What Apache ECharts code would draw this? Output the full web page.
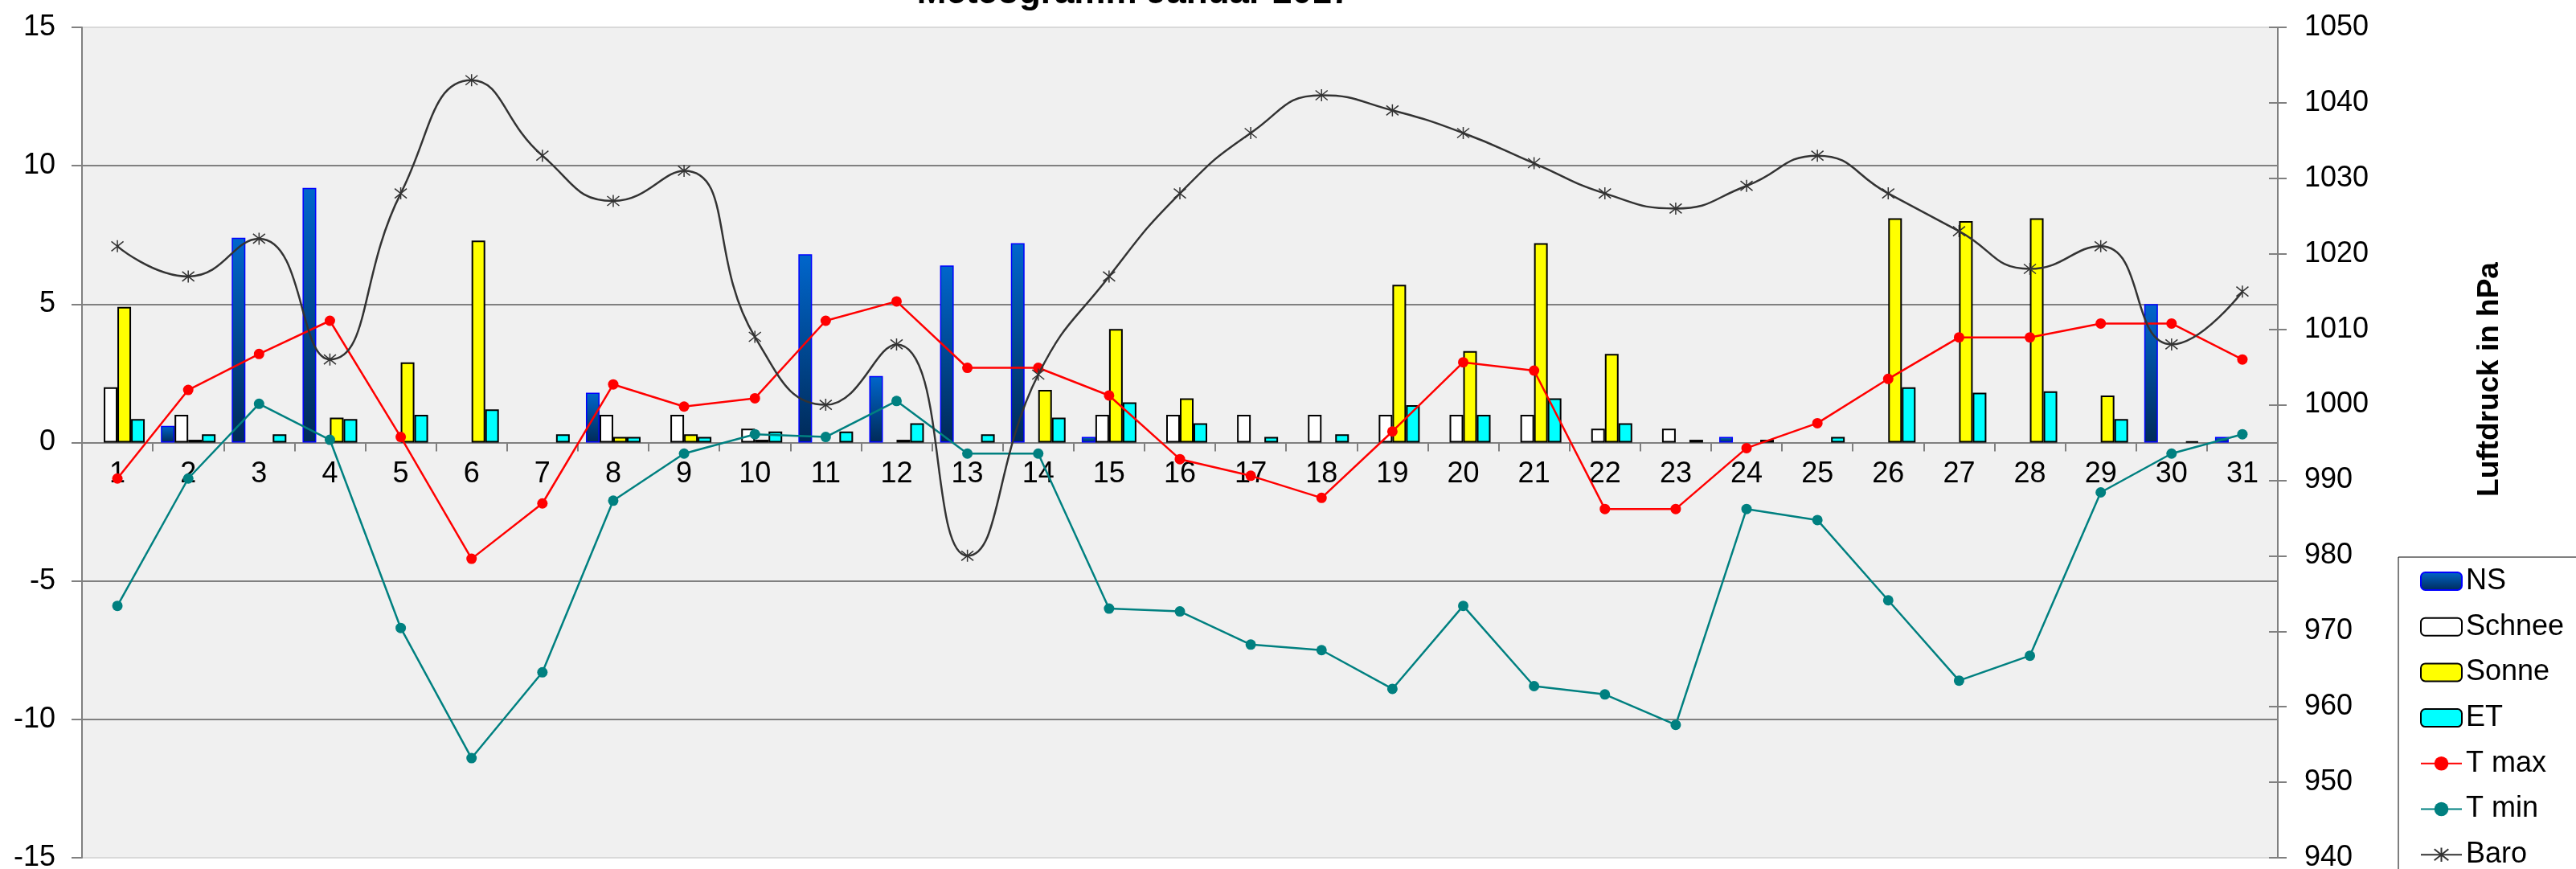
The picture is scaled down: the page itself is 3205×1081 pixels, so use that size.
<!DOCTYPE html>
<html>
<head>
<meta charset="utf-8">
<script src="https://cdn.jsdelivr.net/npm/echarts@6/dist/echarts.min.js"></script>
<style>
html,body{margin:0;padding:0;background:#fff;}
#c{width:3205px;height:1081px;}
</style>
</head>
<body>
<div id="c"></div>
<script>
const days = ['1','2','3','4','5','6','7','8','9','10','11','12','13','14','15','16','17','18','19','20','21','22','23','24','25','26','27','28','29','30','31'];
const leftTicks = [-15, 15, 5];
const rightTicks = [940, 1050, 10];
const ns     = [0,0.6,7.4,9.2,0,0,0,1.8,0,0,6.8,2.4,6.4,7.2,0.2,0,0,0,0,0,0,0,0,0.2,0,0,0,0,0,5.0,0.2];
const schnee = [2.0,1.0,0,0,0,0,0,1.0,1.0,0.5,0,0,0,0,1.0,1.0,1.0,1.0,1.0,1.0,1.0,0.5,0.5,0,0,0,0,0,0,0,0];
const sonne  = [4.9,0.1,0,0.9,2.9,7.3,0,0.2,0.3,0.1,0,0.1,0,1.9,4.1,1.6,0,0,5.7,3.3,7.2,3.2,0,0,0,8.1,8.0,8.1,1.7,0,0];
const et     = [0.85,0.3,0.3,0.85,1.0,1.2,0.3,0.2,0.2,0.4,0.4,0.7,0.3,0.9,1.45,0.7,0.2,0.3,1.35,1.0,1.6,0.7,0.1,0.1,0.2,2.0,1.8,1.85,0.85,0.05,0];
const tmax   = [-1.3,1.9,3.2,4.4,0.2,-4.2,-2.2,2.1,1.3,1.6,4.4,5.1,2.7,2.7,1.7,-0.6,-1.2,-2.0,0.4,2.9,2.6,-2.4,-2.4,-0.2,0.7,2.3,3.8,3.8,4.3,4.3,3.0];
const tmin   = [-5.9,-1.3,1.4,0.1,-6.7,-11.4,-8.3,-2.1,-0.4,0.3,0.2,1.5,-0.4,-0.4,-6.0,-6.1,-7.3,-7.5,-8.9,-5.9,-8.8,-9.1,-10.2,-2.4,-2.8,-5.7,-8.6,-7.7,-1.8,-0.4,0.3];
const baro   = [1021,1017,1022,1006,1028,1043,1033,1027,1031,1009,1000,1008,980,1004,1017,1028,1036,1041,1039,1036,1032,1028,1026,1029,1033,1028,1023,1018,1021,1008,1015];

const FONT = "'Liberation Sans', Arial, sans-serif";
const nz = a => a.map(v => v === 0 ? null : v);
const W = 3205, H = 1081;
const G = {left:102, right:371, top:34, bottom:14};
const gridH = H - G.top - G.bottom;
// place category axis at value 0 of the left axis
const xOffset = -gridH * (0 - leftTicks[0]) / (leftTicks[1] - leftTicks[0]);

const chart = echarts.init(document.getElementById('c'));
const barBase = {type:'bar', barWidth:17, barGap:'0%', yAxisIndex:0, z:2};
chart.setOption({
  animation:false,
  backgroundColor:'#ffffff',
  textStyle:{fontFamily:FONT},
  grid:Object.assign({show:true, backgroundColor:'#f0f0f0', borderWidth:0, containLabel:false, outerBoundsMode:'none'}, G),
  graphic:[
    {type:'text', x:1411, y:-8, style:{text:'Meteogramm Januar 2017', font:"bold 44px "+FONT, fill:'#000', textAlign:'center', textVerticalAlign:'middle'}},
    {type:'text', x:3098, y:472, rotation:Math.PI/2, style:{text:'Luftdruck in hPa', font:"bold 37px "+FONT, fill:'#000', textAlign:'center', textVerticalAlign:'middle'}}
  ],
  legend:{
    orient:'vertical', left:2984, top:693, height:380,
    itemWidth:51, itemHeight:22, itemGap:20.7,
    padding:[12,60,40,27],
    borderColor:'#000', borderWidth:1, backgroundColor:'#ffffff',
    textStyle:{fontSize:36, fontFamily:FONT, color:'#000', lineHeight:36},
    data:['NS','Schnee','Sonne','ET','T max','T min','Baro']
  },
  xAxis:{
    type:'category', data:days, boundaryGap:true, position:'bottom', offset:xOffset,
    axisLine:{onZero:false, lineStyle:{color:'#808080', width:2}},
    axisTick:{show:true, length:11, lineStyle:{color:'#808080', width:2}},
    axisLabel:{interval:0, fontSize:36, fontFamily:FONT, color:'#000', margin:22, hideOverlap:false},
    splitLine:{show:false}
  },
  yAxis:[
    {type:'value', min:leftTicks[0], max:leftTicks[1], interval:leftTicks[2], position:'left',
     axisLine:{show:true, lineStyle:{color:'#808080', width:2}},
     axisTick:{show:true, length:13, lineStyle:{color:'#808080', width:2}},
     axisLabel:{fontSize:36, fontFamily:FONT, color:'#000', margin:33, formatter:v => String(v)},
     splitLine:{show:true, lineStyle:{color:['#d9d9d9','#808080','#808080','#808080','#808080','#808080','#d9d9d9'], width:2}}},
    {type:'value', min:rightTicks[0], max:rightTicks[1], interval:rightTicks[2], position:'right',
     axisLine:{show:true, lineStyle:{color:'#808080', width:2}},
     axisTick:{show:true, length:11, lineStyle:{color:'#808080', width:2}},
     axisLabel:{fontSize:36, fontFamily:FONT, color:'#000', margin:33, formatter:v => String(v)},
     splitLine:{show:false}},
    {type:'value', min:rightTicks[0], max:rightTicks[1], interval:rightTicks[2], position:'right',
     axisLine:{show:false},
     axisTick:{show:true, inside:true, length:11, lineStyle:{color:'#808080', width:2}},
     axisLabel:{show:false}, splitLine:{show:false}}
  ],
  series:[
    Object.assign({}, barBase, {name:'NS', data:nz(ns),
      itemStyle:{color:new echarts.graphic.LinearGradient(0,0,0,1,[{offset:0,color:'#0066cc'},{offset:1,color:'#002a58'}]), borderColor:'#0000ff', borderWidth:1.5}}),
    Object.assign({}, barBase, {name:'Schnee', data:nz(schnee), itemStyle:{color:'#ffffff', borderColor:'#000', borderWidth:2}}),
    Object.assign({}, barBase, {name:'Sonne', data:nz(sonne), itemStyle:{color:'#ffff00', borderColor:'#000', borderWidth:2}}),
    Object.assign({}, barBase, {name:'ET', data:nz(et), itemStyle:{color:'#00ffff', borderColor:'#000', borderWidth:2}}),
    {name:'T max', type:'line', yAxisIndex:0, data:tmax, symbol:'circle', symbolSize:13, z:3,
     lineStyle:{color:'#ff0000', width:2.5}, itemStyle:{color:'#ff0000'}},
    {name:'T min', type:'line', yAxisIndex:0, data:tmin, symbol:'circle', symbolSize:13, z:3,
     lineStyle:{color:'#008080', width:2.5}, itemStyle:{color:'#008080'}},
    {name:'Baro', type:'line', yAxisIndex:1, data:baro, smooth:0.5, z:4,
     symbol:'path://M10,0L10,20M2,2L18,18M2,18L18,2', symbolSize:[15,15],
     lineStyle:{color:'#333333', width:2.5}, itemStyle:{color:'transparent', borderColor:'#333333', borderWidth:1.5}}
  ]
});
</script>
</body>
</html>
